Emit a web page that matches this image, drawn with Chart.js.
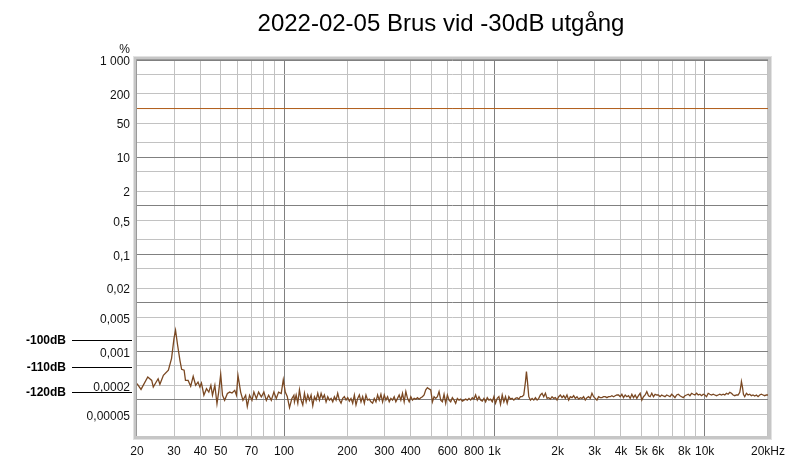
<!DOCTYPE html>
<html>
<head>
<meta charset="utf-8">
<script src="https://cdn.jsdelivr.net/npm/chart.js@4.4.1/dist/chart.umd.min.js"></script>
<style>
  html, body { margin: 0; padding: 0; background: #fff; }
  #wrap { width: 793px; height: 463px; }
</style>
</head>
<body>
<div id="wrap"><canvas id="chart" width="793" height="463"></canvas></div>
<script>
const chartTitle = "2022-02-05 Brus vid -30dB utgång";

// noise spectrum (Hz / dB re 100 %)
const freqHz = [
  20, 20.9, 22.5, 23.5, 23.9, 25.2, 25.7, 26.7, 28.2, 29.2, 30.0, 30.5, 31.2, 32.0, 32.6, 33.5, 34.0, 35.0, 36.0, 37.0,
  38.0, 39.0, 39.8, 40.5, 41.6, 42.8, 43.9, 44.9, 45.7, 46.9, 48.0, 48.9, 50.0, 51.0, 52.2, 53.8, 55.2, 56.6, 58.3, 59.4,
  60.4, 62.2, 63.8, 65.7, 66.9, 68.6, 70.4, 71.9, 73.9, 75.7, 78.0, 80.2, 82.4, 84.5, 87.0, 89.5, 91.9, 94.2, 97.0, 99.2,
  101.4, 103.6, 106.2, 108.9, 111.4,
  112.1, 114.2, 116.3, 118.4, 120.6, 122.8, 125.1, 127.4, 129.7, 132.1, 134.5, 137.0, 139.5, 142.1, 144.7, 147.4, 150.1, 152.8, 155.6, 158.5,
  161.4, 164.4, 167.4, 170.5, 173.6, 176.8, 180.0, 183.3, 186.7, 190.1, 193.6, 197.2, 200.8, 204.5, 208.2, 212.1, 216.0, 219.9, 224.0, 228.1,
  232.3, 236.5, 240.9, 245.3, 249.8, 254.4, 259.0, 263.8, 268.6, 273.6, 278.6, 283.7, 288.9, 294.2, 299.6, 305.1, 310.7, 316.4, 322.2, 328.1,
  334.1, 340.2, 346.5, 352.8, 359.3, 365.9, 372.6, 379.5, 386.5, 393.6, 400.8, 408.1, 415.6,
  423.2, 431.0, 438.9, 446.9, 455.1, 463.5, 472.0, 480.7, 489.5, 498.5, 507.6, 517.0, 526.5, 536.1, 546.0, 556.0, 566.2, 576.6, 587.2, 598.0,
  609.0, 620.1, 631.5, 643.1, 654.9, 667.0, 679.2, 691.7, 704.4, 717.3, 730.5, 743.9, 757.6, 771.5, 785.6, 800.1, 814.8, 829.7, 845.0, 860.5,
  876.3, 892.4, 908.7, 925.4, 942.4, 959.7, 977.4, 995.3, 1013, 1032, 1051, 1070, 1090, 1110, 1130, 1151, 1172, 1193, 1215, 1238,
  1260, 1283, 1307, 1331, 1355, 1380, 1406, 1421, 1437, 1458, 1485, 1512, 1540, 1568, 1597, 1626, 1656, 1686,
  1717, 1749, 1781, 1813, 1847, 1881, 1915, 1950, 1986, 2023, 2060, 2098, 2136, 2175, 2215, 2256, 2297, 2340, 2383, 2426,
  2471, 2516, 2562, 2610, 2657, 2706, 2756, 2807, 2858, 2911, 2964, 3019, 3074, 3130, 3188, 3247, 3306, 3367, 3429, 3492,
  3556, 3621, 3688, 3755, 3824, 3895, 3966, 4039, 4113, 4189, 4266, 4344, 4424, 4505, 4588, 4672, 4758, 4845, 4934, 5025,
  5117, 5211, 5307, 5405, 5504, 5605, 5708, 5813, 5919,
  6023, 6133, 6246, 6361, 6477, 6596, 6717, 6841, 6966, 7094, 7224, 7357, 7492, 7630, 7770, 7912, 8058, 8206, 8356, 8510,
  8666, 8825, 8987, 9152, 9320, 9491, 9665, 9843, 10021, 10205, 10392, 10583, 10777, 10975, 11177, 11382, 11591, 11804, 12020, 12241,
  12466, 12695, 12928, 13165, 13407, 13653, 13904, 14159, 14419, 14684, 14845, 14954, 15118, 15284, 15508, 15793, 16083, 16378, 16679, 16985,
  17297, 17615, 17938, 18268, 18603, 18945, 19293, 19647, 20000
];
const levelDb = [
  -113.3, -115.7, -110.6, -112.0, -114.7, -111.3, -113.6, -109.9, -107.8, -102.9, -94.6, -91.3, -97.5, -103.7, -107.4, -107.8, -112.0, -112.0, -114.4, -110.3,
  -114.0, -112.7, -114.7, -113.1, -118.1, -115.4, -116.8, -114.0, -118.1, -114.0, -121.6, -116.8, -109.5, -118.1, -120.2, -117.4, -116.8, -117.2, -116.1, -118.1,
  -109.9, -116.8, -120.2, -118.1, -122.7, -118.1, -120.2, -116.8, -119.5, -116.8, -118.8, -116.8, -120.2, -118.1, -120.2, -116.8, -119.5, -116.8, -117.4, -111.7,
  -116.8, -118.6, -123.2, -119.5, -118.1,
  -120.8, -118.0, -121.4, -115.9, -120.1, -122.1, -117.3, -120.8, -118.0, -120.1, -118.0, -122.4, -118.7, -120.1, -117.3, -120.1, -117.3, -119.4, -118.0, -120.8,
  -118.7, -120.1, -119.4, -120.8, -118.7, -120.1, -117.3, -120.1, -121.4, -119.4, -118.7, -120.1, -119.1, -120.5, -119.4, -121.4, -118.0, -122.1, -119.4, -118.0,
  -120.8, -118.7, -121.4, -118.0, -120.1, -119.7, -120.8, -121.4, -119.4, -120.8, -118.0, -120.1, -117.7, -120.8, -118.0, -120.1, -118.7, -120.8, -119.4, -120.1,
  -118.7, -120.8, -119.4, -118.0, -120.1, -117.3, -120.8, -116.6, -119.4, -120.8, -118.7, -120.1, -119.4,
  -119.7, -119.1, -119.7, -119.1, -118.7, -118.0, -115.9, -115.0, -115.5, -115.9, -120.8, -118.7, -119.4, -118.7, -116.6, -120.1, -120.8, -117.7, -121.4, -118.0,
  -120.1, -120.8, -119.1, -120.1, -121.4, -119.4, -120.1, -119.7, -120.5, -120.1, -119.7, -120.1, -119.4, -120.1, -119.1, -119.7, -118.0, -120.1, -118.7, -120.1,
  -120.5, -119.4, -120.8, -119.1, -120.1, -119.7, -120.8, -118.7, -121.4, -119.4, -118.7, -121.9, -118.0, -120.8, -118.7, -121.4, -118.7, -119.7, -119.4, -120.1,
  -119.4, -119.1, -119.7, -118.7, -118.7, -118.0, -112.5, -108.4, -112.5, -118.7, -120.1, -119.4, -120.1, -119.1, -120.1, -119.4, -118.0, -117.3,
  -118.7, -117.3, -119.4, -119.1, -119.7, -118.7, -119.4, -119.1, -120.1, -118.7, -118.0, -119.1, -118.3, -119.4, -118.0, -120.1, -118.7, -119.1, -118.3, -119.4,
  -118.7, -119.7, -119.1, -119.4, -118.7, -120.1, -119.1, -118.7, -119.4, -117.3, -118.7, -119.4, -120.1, -118.7, -119.1, -119.1, -118.7, -118.7, -119.1, -118.7,
  -118.7, -118.3, -118.7, -118.3, -118.0, -118.0, -118.7, -117.7, -119.1, -118.0, -118.7, -118.3, -119.4, -117.7, -119.1, -118.0, -119.4, -118.3, -117.3, -120.1,
  -118.7, -118.0, -116.6, -118.3, -118.7, -117.3, -118.7, -117.7, -118.0,
  -118.0, -118.7, -118.0, -118.4, -118.7, -118.0, -118.3, -118.7, -117.7, -118.3, -119.1, -118.0, -117.7, -118.3, -118.7, -119.1, -118.3, -118.0, -117.7, -118.3,
  -117.3, -117.7, -118.0, -117.3, -118.0, -117.7, -118.3, -117.7, -118.0, -118.7, -117.3, -117.7, -118.0, -117.7, -118.0, -118.3, -118.0, -117.7, -118.0, -117.7,
  -118.0, -117.3, -117.7, -116.9, -117.3, -118.0, -118.3, -118.0, -118.0, -116.9, -114.6, -112.5, -114.6, -117.7, -118.7, -117.3, -118.0, -117.7, -118.3, -118.0,
  -118.4, -118.0, -118.7, -118.0, -117.7, -118.0, -118.3, -118.0, -118.0
];

// fundamental reference line (100 %)
const refFreqHz = [20, 20000];
const refPct = [100, 100];

// axes
const yGrid = [0.00005, 0.0001, 0.0002, 0.0005, 0.001, 0.002, 0.005, 0.01, 0.02, 0.05, 0.1, 0.2, 0.5,
  1, 2, 5, 10, 20, 50, 100, 200, 500, 1000];
const yLabelValues = [1000, 200, 50, 10, 2, 0.5, 0.1, 0.02, 0.005, 0.001, 0.0002, 0.00005];
const yLabelTexts = ["1 000", "200", "50", "10", "2", "0,5", "0,1", "0,02", "0,005", "0,001", "0,0002", "0,00005"];
const xGrid = [30, 40, 50, 60, 70, 80, 90, 100, 200, 300, 400, 500, 600, 700, 800, 900,
  1000, 2000, 3000, 4000, 5000, 6000, 7000, 8000, 9000, 10000, 20000];
const xLabelValues = [20, 30, 40, 50, 70, 100, 200, 300, 400, 600, 800, 1000, 2000, 3000, 4000, 5000, 6000, 8000, 10000, 20000];
const xLabelTexts = ["20", "30", "40", "50", "70", "100", "200", "300", "400", "600", "800", "1k", "2k", "3k", "4k", "5k", "6k", "8k", "10k", "20kHz"];

// dB marks at the left side (as % on the y scale)
const markValues = [0.00169, 0.00048, 0.000143];
const markTexts = ["-100dB", "-110dB", "-120dB"];

const FONT = '"Liberation Sans", Arial, sans-serif';

function isDecade(v) {
    const l = Math.log10(v);
    return Math.abs(l - Math.round(l)) < 1e-6;
}

function findLabel(values, texts, v) {
    for (let i = 0; i < values.length; i++) {
        if (Math.abs(values[i] - v) / values[i] < 1e-6) return texts[i];
    }
    return "";
}

const noisePoints = [];
for (let i = 0; i < Math.min(freqHz.length, levelDb.length); i++) {
    noisePoints.push({ x: freqHz[i], y: 100 * Math.pow(10, levelDb[i] / 20) });
}
const refPoints = refFreqHz.map((f, i) => ({ x: f, y: refPct[i] }));

const decorPlugin = {
    id: "decor",
    afterDraw(chart) {
        const { ctx, chartArea: a, scales } = chart;
        ctx.save();

        // plot frame: light band with a darker inner edge
        ctx.strokeStyle = "#c6c6c6";
        ctx.lineWidth = 3;
        ctx.strokeRect(a.left - 1.5, a.top - 1.5, a.right - a.left + 3, a.bottom - a.top + 3);
        ctx.strokeStyle = "#9a9a9a";
        ctx.lineWidth = 1;
        ctx.beginPath();
        ctx.moveTo(a.left - 0.5, a.bottom);
        ctx.lineTo(a.left - 0.5, a.top - 0.5);
        ctx.lineTo(a.right, a.top - 0.5);
        ctx.stroke();
        ctx.strokeStyle = "#e2e2e2";
        ctx.strokeRect(a.left - 3.5, a.top - 3.5, a.right - a.left + 7, a.bottom - a.top + 7);

        // title
        ctx.fillStyle = "#000";
        ctx.font = "24px " + FONT;
        ctx.textAlign = "center";
        ctx.textBaseline = "alphabetic";
        ctx.fillText(chartTitle, 441, 31);

        // unit
        ctx.font = "12px " + FONT;
        ctx.textAlign = "right";
        ctx.fillStyle = "#111";
        ctx.fillText("%", 130, 53);

        // dB marks
        markValues.forEach((v, i) => {
            const py = Math.round(scales.y.getPixelForValue(v)) + 0.5;
            ctx.beginPath();
            ctx.moveTo(72, py);
            ctx.lineTo(132, py);
            ctx.strokeStyle = "#000";
            ctx.lineWidth = 1;
            ctx.stroke();
            ctx.font = "bold 12px " + FONT;
            ctx.textAlign = "right";
            ctx.textBaseline = "middle";
            ctx.fillStyle = "#000";
            ctx.fillText(markTexts[i], 66, py);
        });

        ctx.restore();
    }
};

new Chart(document.getElementById("chart"), {
    type: "line",
    data: {
        datasets: [{
            label: "Grundton",
            data: refPoints,
            borderColor: "#b4601c",
            borderWidth: 1,
            pointRadius: 0,
            tension: 0
        }, {
            label: "Brus",
            data: noisePoints,
            borderColor: "#7a4822",
            borderWidth: 1.3,
            pointRadius: 0,
            tension: 0
        }]
    },
    options: {
        responsive: false,
        animation: false,
        devicePixelRatio: 1,
        layout: { padding: { top: 60, right: 23, left: 0, bottom: 0 } },
        plugins: {
            legend: { display: false },
            title: { display: false },
            tooltip: { enabled: false }
        },
        scales: {
            x: {
                type: "logarithmic",
                min: 20,
                max: 20000,
                border: { display: false },
                afterBuildTicks: s => { s.ticks = [20].concat(xGrid).map(v => ({ value: v })); },
                afterFit: s => { s.height = 27; },
                grid: {
                    drawTicks: false,
                    lineWidth: 1,
                    color: c => (c.tick && c.tick.value === 20) ? "rgba(0,0,0,0)" :
                        (c.tick && isDecade(c.tick.value) ? "#808080" : "#c2c2c2")
                },
                ticks: {
                    autoSkip: false,
                    maxRotation: 0,
                    padding: 8,
                    color: "#111",
                    font: { family: FONT, size: 12 },
                    callback: v => findLabel(xLabelValues, xLabelTexts, v)
                }
            },
            y: {
                type: "logarithmic",
                min: 0.000018,
                max: 1000,
                border: { display: false },
                afterBuildTicks: s => { s.ticks = yGrid.map(v => ({ value: v })); },
                afterFit: s => { s.width = 137; },
                grid: {
                    drawTicks: false,
                    lineWidth: 1,
                    color: c => (c.tick && isDecade(c.tick.value)) ? "#808080" : "#c2c2c2"
                },
                ticks: {
                    autoSkip: false,
                    padding: 7,
                    labelOffset: 2,
                    color: "#111",
                    font: { family: FONT, size: 12 },
                    callback: v => findLabel(yLabelValues, yLabelTexts, v)
                }
            }
        }
    },
    plugins: [decorPlugin]
});
</script>
</body>
</html>
